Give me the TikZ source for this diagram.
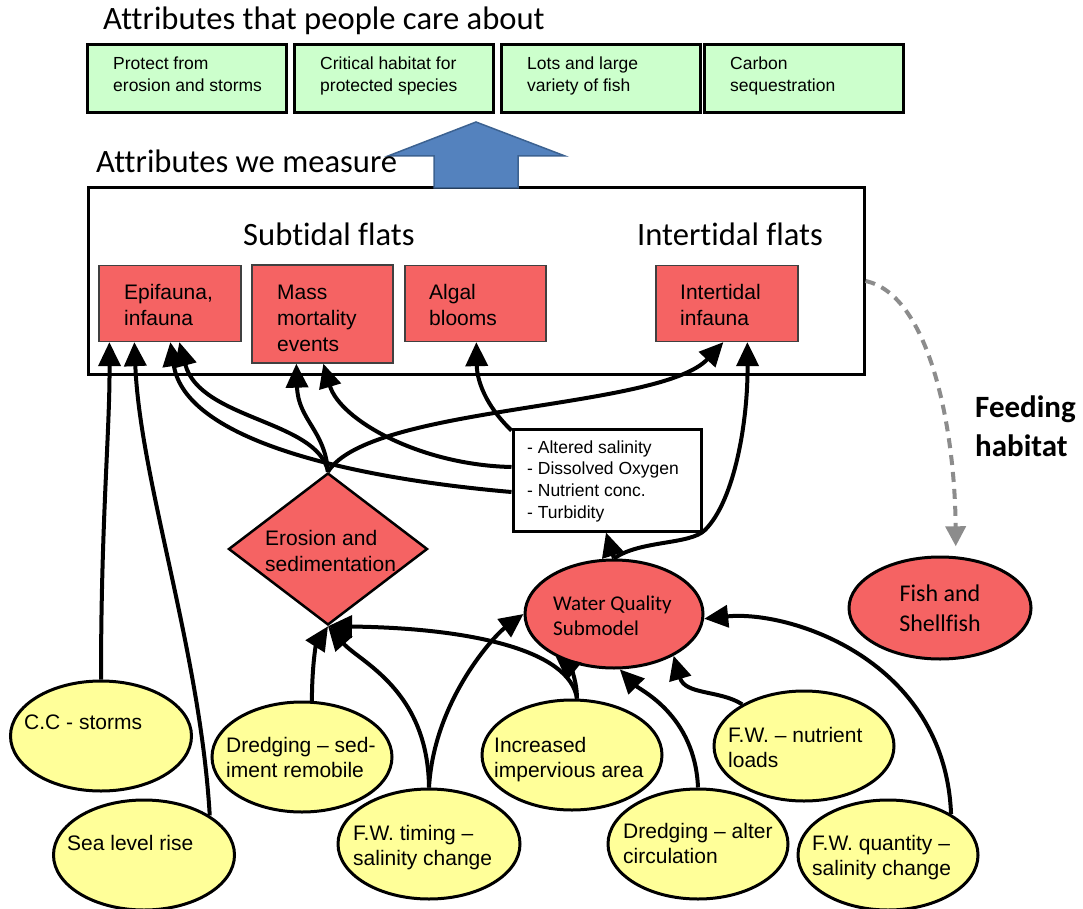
\documentclass[tikz,border=0pt]{standalone}
\usepackage{fontspec}
\setmainfont[Ligatures={TeX,NoCommon}]{Carlito}
\newfontfamily\arialfont[Ligatures=TeX]{Liberation Sans}
\usetikzlibrary{shapes.geometric,arrows.meta,calc}
\definecolor{redf}{RGB}{245,99,99}
\definecolor{greenf}{RGB}{204,255,204}
\definecolor{yellowf}{RGB}{255,255,153}
\definecolor{bluef}{RGB}{84,130,190}
\definecolor{blued}{RGB}{60,98,145}
\definecolor{dashg}{RGB}{140,140,140}
\newcommand\mylines[1]{\begin{tabular}[t]{@{}l@{}}#1\end{tabular}}
\begin{document}
\begin{tikzpicture}[x=1pt,y=-1pt,
  greenbox/.style={draw=black, line width=3pt, fill=greenf, minimum width=199pt, minimum height=68pt, inner sep=0pt},
  redbox/.style={draw=black!75, line width=1.3pt, fill=redf, inner sep=0pt, minimum width=142pt},
  yell/.style={ellipse, draw=black, line width=3pt, fill=yellowf, minimum width=180pt, minimum height=110pt, inner sep=0pt},
  redell/.style={ellipse, draw=black, line width=3pt, fill=redf, inner sep=0pt},
  head/.style={font=\fontsize{32.6}{38}\selectfont, inner sep=0pt, anchor=base west},
  gtext/.style={font=\arialfont\fontsize{17.5}{22}\selectfont, inner sep=0pt, anchor=base west},
  rtext/.style={font=\arialfont\fontsize{21}{26}\selectfont, inner sep=0pt, anchor=base west},
  ytext/.style={font=\arialfont\fontsize{21}{25}\selectfont, inner sep=0pt, anchor=base west},
  conn/.style={line width=4pt, -{Triangle[length=24pt,width=22pt]}},
]
\useasboundingbox (0,0) rectangle (1083,909);
\fill[white] (0,0) rectangle (1083,909);

% headings
\node[head] (t1) at (103,30) {Attributes that people care about};

% green boxes
\node[greenbox] (g1) at (186.5,79) {};
\node[greenbox] (g2) at (394,79) {};
\node[greenbox] (g3) at (601,79) {};
\node[greenbox] (g4) at (804,79) {};
\node[gtext] (g1t) at (113,70) {\mylines{Protect from\\erosion and storms}};
\node[gtext] (g2t) at (320,70) {\mylines{Critical habitat for\\protected species}};
\node[gtext] (g3t) at (527,70) {\mylines{Lots and large\\variety of fish}};
\node[gtext] (g4t) at (730,70) {\mylines{Carbon\\sequestration}};

% measured box
\node[draw=black, line width=3pt, fill=white, minimum width=776pt, minimum height=186pt, inner sep=0pt] (meas) at (476,281) {};

% blue arrow
\draw[fill=bluef, draw=blued, line width=1.5pt] (434,188) -- (434,156) -- (388,156) -- (476,122) -- (565,156) -- (518,156) -- (518,188) -- cycle;
\node[head] (t2) at (96,173) {Attributes we measure};

\node[head] (sub) at (243,246) {Subtidal flats};
\node[head] (int) at (637,246) {Intertidal flats};

% red boxes
\node[redbox, minimum height=76pt] (epi) at (170,303.5) {};
\node[redbox, minimum height=98pt, minimum width=141pt] (mass) at (322.5,314) {};
\node[redbox, minimum height=76pt, minimum width=141pt] (alg) at (475.5,303.5) {};
\node[redbox, minimum height=76pt] (inter) at (727,303.5) {};
\node[rtext] (epit) at (124,299) {\mylines{Epifauna,\\infauna}};
\node[rtext] (masst) at (277,299) {\mylines{Mass\\mortality\\events}};
\node[rtext] (algt) at (429,299) {\mylines{Algal\\blooms}};
\node[rtext] (intert) at (680,299) {\mylines{Intertidal\\infauna}};

% text box
\node[draw=black, line width=3pt, fill=white, minimum width=188pt, minimum height=102pt, inner sep=0pt] (tb) at (607,480) {};
\node[font=\arialfont\fontsize{17.5}{21.7}\selectfont, inner sep=0pt, anchor=base west] (tbt) at (527,453)
  {\mylines{- Altered salinity\\- Dissolved Oxygen\\- Nutrient conc.\\- Turbidity}};

% diamond
\node[diamond, draw=black, line width=2.5pt, fill=redf, minimum width=199pt, minimum height=152pt, inner sep=0pt] (dia) at (328,549) {};
\node[rtext] (diat) at (265,545) {\mylines{Erosion and\\sedimentation}};

% water quality
\node[redell, minimum width=178pt, minimum height=108pt] (wq) at (614,614) {};
\node[font=\fontsize{21}{25.5}\selectfont, inner sep=0pt, anchor=base west] (wqt) at (553,610) {\mylines{Water Quality\\Submodel}};

% fish
\node[redell, minimum width=182pt, minimum height=102pt, align=center, font=\fontsize{24}{30}\selectfont] (fish) at (940,608) {Fish and\\Shellfish};
\node[font=\bfseries\fontsize{31}{39}\selectfont, inner sep=0pt, anchor=base west] (feed) at (975,417) {\mylines{Feeding\\habitat}};

% yellow drivers
\node[yell, minimum width=181pt] (cc) at (101,736) {};
\node[yell, minimum width=181pt] (slr) at (144,855) {};
\node[yell] (dsed) at (302,757) {};
\node[yell, minimum width=182pt] (fwt) at (429,844) {};
\node[yell] (imp) at (572,755) {};
\node[yell] (dalt) at (698,844) {};
\node[yell] (fwn) at (804,746) {};
\node[yell] (fwq) at (888,855) {};
\node[ytext] (cct) at (24,729) {C.C - storms};
\node[ytext] (slrt) at (67,850) {Sea level rise};
\node[ytext] (dsedt) at (226,752) {\mylines{Dredging – sed-\\iment remobile}};
\node[ytext] (fwtt) at (353,840) {\mylines{F.W. timing –\\salinity change}};
\node[ytext] (impt) at (494,752) {\mylines{Increased\\impervious area}};
\node[ytext] (daltt) at (623,838) {\mylines{Dredging – alter\\circulation}};
\node[ytext] (fwnt) at (728,742) {\mylines{F.W. – nutrient\\loads}};
\node[ytext] (fwqt) at (812,850) {\mylines{F.W. quantity –\\salinity change}};

% connectors to measured attributes
\draw[conn] (cc.north) .. controls (101,520) and (110,430) .. ($(epi.south west)+(11,0)$);
\draw[conn] (slr.31) .. controls (200,650) and (140,480) .. ($(epi.south west)+(36,0)$);
\draw[conn] (dia.north) .. controls (318,420) and (200,420) .. ($(epi.south west)+(81,0)$);
\draw[conn] ($(tb.west)+(0,12)$) .. controls (350,478) and (185,440) .. ($(epi.south west)+(72,0)$);
\draw[conn] (dia.north) .. controls (325,430) and (298,420) .. ($(mass.south west)+(45,0)$);
\draw[conn] ($(tb.west)+(0,-13)$) .. controls (420,465) and (340,420) .. ($(mass.south west)+(72,0)$);
\draw[conn] (dia.north) .. controls (370,405) and (660,410) .. ($(inter.south west)+(68,0)$);
\draw[conn] ($(tb.north west)+(0,3)$) .. controls (485,405) and (477,380) .. ($(alg.south west)+(72,0)$);
\draw[conn] (wq.north) -- ($(tb.south)+(-1,0)$);
\draw[conn] (wq.north) .. controls (640,540) and (690,545) .. (705,530) .. controls (735,500) and (748,420) .. ($(inter.south west)+(92,0)$);

% drivers
\draw[conn] (dsed.80) .. controls (312,665) and (316,645) .. (dia.south);
\draw[conn] (fwt.north) .. controls (428,690) and (360,662) .. (dia.south);
\draw[conn] (fwt.north) .. controls (434,700) and (495,635) .. (wq.west);
\draw[conn] (imp.85) .. controls (570,650) and (470,628) .. (dia.south);
\draw[conn] (imp.85) .. controls (577,680) and (570,668) .. (wq.216);
\draw[conn] (dalt.north) .. controls (695,715) and (640,690) .. (wq.276);
\draw[conn] (fwn.146) .. controls (720,690) and (685,695) .. (wq.325);
\draw[conn] (fwq.33) .. controls (945,660) and (790,610) .. (wq.357);

% feeding habitat link
\draw[line width=4pt, dashg, dash pattern=on 10pt off 7pt, -{Triangle[length=20pt,width=20pt]}, shorten >=10pt]
  (meas.east) .. controls (930,295) and (955,430) .. (fish.73);
\end{tikzpicture}
\end{document}
